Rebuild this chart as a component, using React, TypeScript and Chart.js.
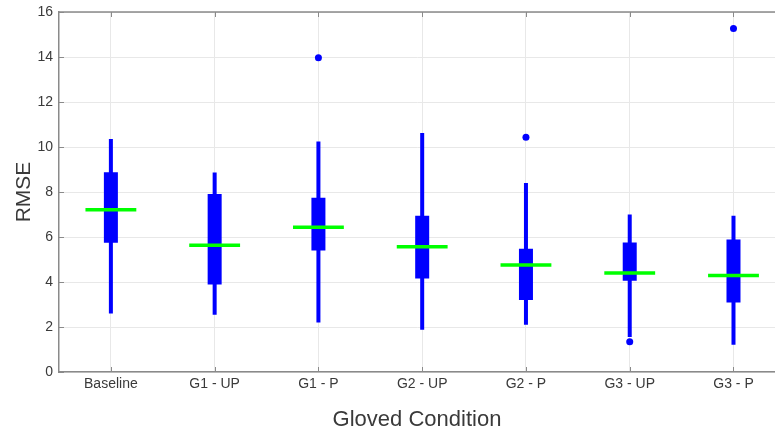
import React, { useEffect, useRef } from "react";
import { Chart, registerables } from "chart.js";

Chart.register(...registerables);

const categories = ["Baseline", "G1 - UP", "G1 - P", "G2 - UP", "G2 - P", "G3 - UP", "G3 - P"];
const whiskerLow = [2.6, 2.55, 2.2, 1.88, 2.1, 1.56, 1.21];
const q1 = [5.75, 3.89, 5.4, 4.16, 3.2, 4.06, 3.09];
const medians = [7.21, 5.63, 6.43, 5.57, 4.76, 4.4, 4.29];
const q3 = [8.88, 7.91, 7.75, 6.95, 5.48, 5.76, 5.89];
const whiskerHigh = [10.36, 8.87, 10.25, 10.62, 8.4, 7.0, 6.95];
const outliers: { cat: number; value: number }[] = [
  { cat: 2, value: 13.97 },
  { cat: 4, value: 10.43 },
  { cat: 5, value: 1.35 },
  { cat: 6, value: 15.27 },
];
const yTicks = [0, 2, 4, 6, 8, 10, 12, 14, 16];

const BLUE = "#0000ff";
const GREEN = "#00ff00";
const TEXT = "#3a3a3a";
const AXIS = "#8a8a8a";
const GRID = "#e8e8e8";
const FONT = "'Liberation Sans', Arial, Helvetica, sans-serif";

function segments(lo: number[], hi: number[]) {
  const pts: { x: number; y: number | null }[] = [];
  lo.forEach((l, i) => {
    pts.push({ x: i + 1, y: l });
    pts.push({ x: i + 1, y: hi[i] });
    pts.push({ x: i + 1, y: null });
  });
  return pts;
}

function medianSegments(half: number) {
  const pts: { x: number; y: number | null }[] = [];
  medians.forEach((m, i) => {
    pts.push({ x: i + 1 - half, y: m });
    pts.push({ x: i + 1 + half, y: m });
    pts.push({ x: i + 1, y: null });
  });
  return pts;
}

const frame = {
  id: "frame",
  afterDatasetsDraw(chart: any) {
    const { ctx, chartArea, scales } = chart;
    ctx.save();
    ctx.strokeStyle = AXIS;
    ctx.lineWidth = 1.5;
    ctx.beginPath();
    ctx.moveTo(chartArea.left, chartArea.top);
    ctx.lineTo(chartArea.right, chartArea.top);
    ctx.stroke();
    ctx.lineWidth = 1;
    ctx.beginPath();
    scales.x.ticks.forEach((t: any) => {
      const px = Math.round(scales.x.getPixelForValue(t.value)) + 0.5;
      ctx.moveTo(px, chartArea.bottom);
      ctx.lineTo(px, chartArea.bottom - 5);
      ctx.moveTo(px, chartArea.top);
      ctx.lineTo(px, chartArea.top + 5);
    });
    scales.y.ticks.forEach((t: any) => {
      const py = Math.round(scales.y.getPixelForValue(t.value)) + 0.5;
      ctx.moveTo(chartArea.left, py);
      ctx.lineTo(chartArea.left + 5, py);
    });
    ctx.stroke();
    ctx.restore();
  },
};

export default function App() {
  const ref = useRef<HTMLCanvasElement>(null);
  useEffect(() => {
    if (!ref.current) return;
    const chart = new Chart(ref.current, {
      type: "line",
      data: {
        datasets: [
          {
            label: "median",
            data: medianSegments(0.245),
            borderColor: GREEN,
            borderWidth: 3.5,
            pointRadius: 0,
            spanGaps: false,
            order: 0,
          },
          {
            label: "box",
            data: segments(q1, q3),
            borderColor: BLUE,
            borderWidth: 14,
            pointRadius: 0,
            spanGaps: false,
            order: 1,
          },
          {
            label: "whisker",
            data: segments(whiskerLow, whiskerHigh),
            borderColor: BLUE,
            borderWidth: 4,
            pointRadius: 0,
            spanGaps: false,
            order: 2,
          },
          {
            label: "outliers",
            data: outliers.map((o) => ({ x: o.cat + 1, y: o.value })),
            showLine: false,
            pointRadius: 3.5,
            pointBackgroundColor: BLUE,
            pointBorderColor: BLUE,
            borderWidth: 0,
            order: 3,
          } as any,
        ],
      },
      options: {
        animation: false,
        responsive: false,
        events: [],
        layout: { autoPadding: false, padding: { left: 0, right: 0, top: 12, bottom: 0 } },
        plugins: { legend: { display: false }, tooltip: { enabled: false } },
        scales: {
          x: {
            type: "linear",
            min: 0.5,
            max: 7.4,
            afterBuildTicks: (scale: any) => {
              scale.ticks = categories.map((_, i) => ({ value: i + 1 }));
            },
            afterFit: (scale: any) => {
              scale.height = 59;
              scale.paddingLeft = 0;
              scale.paddingRight = 0;
            },
            ticks: {
              callback: (v: any) => categories[Math.round(Number(v)) - 1] ?? "",
              color: TEXT,
              font: { family: FONT, size: 14 },
              padding: 4,
              maxRotation: 0,
              autoSkip: false,
            },
            grid: { color: GRID, drawTicks: false },
            border: { color: AXIS, width: 1.5 },
            title: {
              display: true,
              text: "Gloved Condition",
              color: TEXT,
              font: { family: FONT, size: 22 },
              padding: { top: 0, bottom: -2 },
            },
          },
          y: {
            type: "linear",
            min: 0,
            max: 16,
            afterBuildTicks: (scale: any) => {
              scale.ticks = yTicks.map((v) => ({ value: v }));
            },
            afterFit: (scale: any) => {
              scale.width = 59;
              scale.paddingTop = 0;
              scale.paddingBottom = 0;
            },
            ticks: {
              color: TEXT,
              font: { family: FONT, size: 14 },
              padding: 6,
            },
            grid: { color: GRID, drawTicks: false },
            border: { color: AXIS, width: 1.5 },
            title: {
              display: true,
              text: "RMSE",
              color: TEXT,
              font: { family: FONT, size: 21 },
              padding: { top: 12, bottom: 0 },
            },
          },
        },
      },
      plugins: [frame],
    });
    return () => chart.destroy();
  }, []);
  return (
    <div style={{ position: "fixed", left: 0, top: 0, width: 775, height: 431, background: "#fff" }}>
      <canvas ref={ref} width={775} height={431} />
    </div>
  );
}
